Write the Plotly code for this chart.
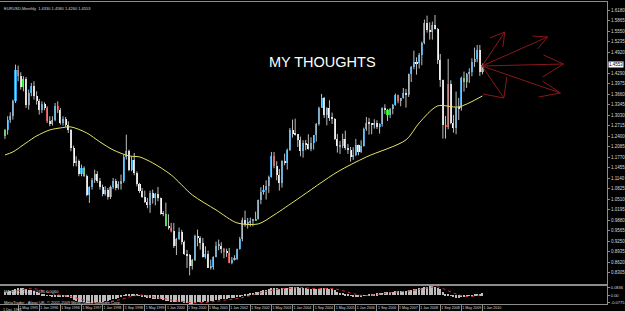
import plotly.graph_objects as go

# ---------------- data (monthly EURUSD, Dec 1994 .. Jan 2010) ----------------
opens = [1.240,
 1.258,1.290,1.300,1.345,1.440,1.420,1.388,1.412,1.335,1.370,1.392,1.362,
 1.345,1.318,1.336,1.325,1.285,1.278,1.290,1.330,1.320,1.280,1.292,1.275,
 1.258,1.205,1.160,1.165,1.128,1.145,1.122,1.065,1.088,1.110,1.126,1.107,
 1.088,1.066,1.079,1.057,1.087,1.107,1.085,1.098,1.106,1.177,1.196,1.139,
 1.169,1.129,1.098,1.077,1.058,1.043,1.035,1.069,1.055,1.068,1.054,1.008,
 1.007,0.971,0.965,0.956,0.910,0.932,0.954,0.924,0.887,0.883,0.850,0.870,
 0.942,0.935,0.920,0.879,0.887,0.846,0.849,0.878,0.912,0.912,0.903,0.893,
 0.890,0.860,0.870,0.872,0.902,0.933,0.990,0.977,0.981,0.987,0.988,0.993,
 1.049,1.073,1.078,1.091,1.119,1.180,1.150,1.124,1.099,1.165,1.160,1.198,
 1.259,1.247,1.247,1.230,1.197,1.220,1.216,1.202,1.219,1.243,1.277,1.326,
 1.356,1.304,1.325,1.296,1.292,1.231,1.210,1.212,1.233,1.205,1.199,1.179,
 1.184,1.215,1.192,1.212,1.262,1.281,1.279,1.276,1.281,1.268,1.276,1.326,
 1.320,1.303,1.323,1.335,1.365,1.345,1.354,1.370,1.365,1.427,1.448,1.463,
 1.459,1.485,1.519,1.579,1.560,1.554,1.575,1.561,1.468,1.409,1.273,1.269,
 1.397,1.280,1.266,1.325,1.324,1.415,1.403,1.426,1.434,1.464,1.472,1.500,
 1.433]
highs = [1.262,
 1.300,1.312,1.350,1.455,1.452,1.432,1.420,1.418,1.380,1.400,1.405,1.375,
 1.352,1.345,1.342,1.330,1.300,1.300,1.340,1.345,1.325,1.300,1.298,1.285,
 1.262,1.212,1.180,1.170,1.155,1.150,1.125,1.090,1.115,1.140,1.135,1.115,
 1.095,1.090,1.085,1.092,1.115,1.112,1.105,1.125,1.185,1.245,1.200,1.180,
 1.190,1.135,1.100,1.085,1.077,1.055,1.077,1.080,1.070,1.088,1.056,1.016,
 1.041,1.006,0.980,0.980,0.935,0.966,0.959,0.927,0.899,0.887,0.872,0.945,
 0.960,0.940,0.935,0.910,0.897,0.870,0.880,0.924,0.930,0.922,0.905,0.903,
 0.905,0.878,0.883,0.903,0.938,0.996,1.017,0.995,0.996,0.992,1.014,1.050,
 1.087,1.094,1.108,1.122,1.193,1.193,1.165,1.142,1.168,1.188,1.203,1.265,
 1.290,1.293,1.247,1.239,1.228,1.229,1.246,1.237,1.244,1.280,1.329,1.367,
 1.358,1.327,1.348,1.311,1.295,1.247,1.226,1.248,1.257,1.217,1.208,1.207,
 1.232,1.215,1.228,1.266,1.298,1.295,1.280,1.291,1.288,1.279,1.327,1.336,
 1.322,1.325,1.337,1.368,1.365,1.355,1.385,1.382,1.428,1.451,1.497,1.477,
 1.490,1.524,1.590,1.6019,1.582,1.584,1.6038,1.565,1.487,1.410,1.301,1.472,
 1.408,1.304,1.374,1.355,1.419,1.434,1.430,1.444,1.474,1.506,1.514,1.514,
 1.458]
lows = [1.232,
 1.245,1.280,1.290,1.340,1.405,1.380,1.375,1.325,1.320,1.360,1.350,1.335,
 1.305,1.310,1.318,1.280,1.270,1.272,1.285,1.310,1.275,1.272,1.268,1.250,
 1.195,1.150,1.150,1.120,1.120,1.118,1.060,1.040,1.080,1.100,1.100,1.080,
 1.060,1.062,1.050,1.052,1.082,1.078,1.080,1.080,1.100,1.170,1.135,1.135,
 1.123,1.090,1.070,1.055,1.040,1.024,1.010,1.038,1.033,1.045,1.005,1.000,
 0.970,0.960,0.952,0.905,0.884,0.929,0.915,0.884,0.845,0.8228,0.840,0.866,
 0.910,0.900,0.876,0.873,0.845,0.840,0.840,0.877,0.898,0.889,0.874,0.878,
 0.859,0.856,0.867,0.869,0.900,0.925,0.969,0.963,0.969,0.970,0.987,0.990,
 1.036,1.065,1.050,1.070,1.116,1.144,1.108,1.077,1.086,1.153,1.140,1.196,
 1.236,1.242,1.208,1.180,1.176,1.198,1.200,1.195,1.200,1.224,1.272,1.326,
 1.295,1.273,1.286,1.277,1.229,1.191,1.187,1.204,1.199,1.187,1.164,1.169,
 1.180,1.183,1.190,1.209,1.256,1.245,1.246,1.263,1.262,1.248,1.269,1.307,
 1.286,1.295,1.306,1.332,1.339,1.330,1.353,1.326,1.358,1.403,1.441,1.425,
 1.443,1.453,1.516,1.551,1.530,1.530,1.560,1.457,1.388,1.233,1.233,1.261,
 1.276,1.251,1.246,1.289,1.317,1.374,1.385,1.400,1.420,1.448,1.462,1.421,
 1.426]
closes = [1.258,
 1.290,1.300,1.345,1.440,1.420,1.388,1.412,1.335,1.370,1.392,1.362,1.345,
 1.318,1.336,1.325,1.285,1.278,1.290,1.330,1.320,1.280,1.292,1.275,1.258,
 1.205,1.160,1.165,1.128,1.145,1.122,1.065,1.088,1.110,1.126,1.107,1.088,
 1.066,1.079,1.057,1.087,1.107,1.085,1.098,1.106,1.177,1.196,1.139,1.169,
 1.129,1.098,1.077,1.058,1.043,1.035,1.069,1.055,1.068,1.054,1.008,1.007,
 0.971,0.965,0.956,0.910,0.932,0.954,0.924,0.887,0.883,0.850,0.870,0.942,
 0.935,0.920,0.879,0.887,0.846,0.849,0.878,0.912,0.912,0.903,0.893,0.890,
 0.860,0.870,0.872,0.902,0.933,0.990,0.977,0.981,0.987,0.988,0.993,1.049,
 1.073,1.078,1.091,1.119,1.180,1.150,1.124,1.099,1.165,1.160,1.198,1.259,
 1.247,1.246,1.230,1.197,1.220,1.216,1.202,1.219,1.243,1.277,1.326,1.356,
 1.304,1.325,1.296,1.292,1.231,1.210,1.212,1.233,1.205,1.199,1.179,1.184,
 1.215,1.192,1.212,1.262,1.281,1.279,1.276,1.281,1.268,1.276,1.326,1.320,
 1.303,1.323,1.335,1.365,1.345,1.354,1.370,1.365,1.427,1.448,1.463,1.459,
 1.485,1.519,1.579,1.560,1.554,1.575,1.561,1.468,1.409,1.273,1.269,1.397,
 1.280,1.266,1.325,1.324,1.415,1.403,1.426,1.434,1.464,1.472,1.500,1.432,
 1.4553]

green_bars = [0, 7, 30, 61, 71, 95, 145, 174, 181]
red_bars = [5, 16, 20, 63, 83, 85, 102, 149, 167, 168]

# slow moving average (yellow)
ma_bars = [0, 3, 8, 12, 17, 21, 25, 31, 36, 41, 47, 51, 56, 63, 71, 80, 88, 96,
           102, 111, 126, 137, 152, 157, 164, 172, 181]
ma_vals = [1.184, 1.193, 1.220, 1.241, 1.259, 1.265, 1.268, 1.250, 1.223, 1.199,
           1.181, 1.178, 1.160, 1.124, 1.064, 1.019, 0.980, 0.977, 1.004, 1.052,
           1.133, 1.178, 1.229, 1.280, 1.331, 1.328, 1.361]

# MACD(12,26,9) histogram, one value per bar
macd = [0.030,
 0.035,0.040,0.048,0.062,0.068,0.068,0.068,0.058,0.052,0.048,0.040,0.032,
 0.022,0.016,0.010,0.001,-0.006,-0.009,-0.007,-0.007,-0.010,-0.011,-0.013,-0.016,
 -0.027,-0.040,-0.048,-0.057,-0.060,-0.064,-0.072,-0.073,-0.070,-0.065,-0.062,-0.060,
 -0.058,-0.053,-0.050,-0.043,-0.035,-0.030,-0.024,-0.018,-0.005,0.007,0.010,0.015,
 0.013,0.006,-0.002,-0.010,-0.018,-0.025,-0.027,-0.030,-0.031,-0.033,-0.038,-0.042,
 -0.048,-0.053,-0.057,-0.064,-0.066,-0.065,-0.066,-0.070,-0.073,-0.077,-0.077,-0.070,
 -0.064,-0.060,-0.059,-0.056,-0.057,-0.056,-0.052,-0.045,-0.039,-0.035,-0.032,-0.030,
 -0.029,-0.027,-0.024,-0.018,-0.010,0.002,0.010,0.016,0.021,0.025,0.028,0.035,
 0.042,0.047,0.051,0.056,0.064,0.067,0.066,0.062,0.064,0.065,0.068,0.074,
 0.077,0.078,0.076,0.071,0.068,0.064,0.059,0.056,0.055,0.057,0.062,0.068,
 0.066,0.065,0.060,0.055,0.045,0.034,0.026,0.020,0.012,0.005,-0.003,-0.008,
 -0.009,-0.011,-0.010,-0.004,0.003,0.008,0.012,0.016,0.017,0.019,0.025,0.029,
 0.030,0.031,0.033,0.036,0.037,0.038,0.040,0.040,0.046,0.052,0.058,0.060,
 0.063,0.068,0.077,0.081,0.082,0.083,0.081,0.071,0.057,0.033,0.014,0.009,
 -0.005,-0.017,-0.021,-0.024,-0.018,-0.014,-0.009,-0.004,0.003,0.009,0.016,0.016,
 0.018]
signal_bars = [0, 4, 8, 12, 16, 20, 24, 28, 32, 36, 40, 44, 48, 52, 56, 60, 64, 68,
               72, 76, 80, 84, 88, 92, 96, 100, 104, 108, 112, 116, 120, 124, 128,
               132, 136, 140, 144, 148, 152, 156, 160, 164, 168, 172, 176, 180, 181]
signal_vals = [0.025, 0.040, 0.058, 0.058, 0.030, 0.005, -0.008, -0.032, -0.058,
               -0.067, -0.057, -0.038, -0.010, 0.003, -0.015, -0.030, -0.047, -0.060,
               -0.070, -0.065, -0.056, -0.042, -0.030, -0.008, 0.018, 0.040, 0.058,
               0.065, 0.072, 0.065, 0.060, 0.062, 0.043, 0.016, -0.003, 0.005, 0.018,
               0.030, 0.038, 0.049, 0.068, 0.078, 0.042, 0.005, -0.013, 0.003, 0.006]

first_date_label = "1 Dec 1994"
date_tick_bars = [5, 13, 21, 29, 37, 45, 53, 61, 69, 77, 85, 93, 101, 109, 117,
                  125, 133, 141, 149, 157, 165, 173, 181]
date_tick_labels = ["1 May 1995", "1 Jan 1996", "1 Sep 1996", "1 May 1997",
                    "1 Jan 1998", "1 Sep 1998", "1 May 1999", "1 Jan 2000", "1 Sep 2000",
                    "1 May 2001", "1 Jan 2002", "1 Sep 2002", "1 May 2003", "1 Jan 2004",
                    "1 Sep 2004", "1 May 2005", "1 Jan 2006", "1 Sep 2006", "1 May 2007",
                    "1 Jan 2008", "1 Sep 2008", "1 May 2009", "1 Jan 2010"]
# right-axis price labels (the slot at the current price shows the bid box instead)
price_ticks = [0.8305, 0.8620, 0.8935, 0.9250, 0.9565, 0.9880, 1.0195, 1.0510,
               1.0825, 1.1140, 1.1455, 1.1770, 1.2085, 1.2400, 1.2715, 1.3030, 1.3345,
               1.3660, 1.3975, 1.4290, 1.4920, 1.5235, 1.5550, 1.5865, 1.6180]
macd_ticks = [0.0700, 0.0, -0.0700]
macd_tick_text = ["0.0836", "0.00", "-0.0775"]

# ---------------- styling ----------------
W, H = 625, 311
ML, MR, MT, MB = 0, 13, 2, 6
PW, PH = W - ML - MR, H - MT - MB
X_RANGE = [-1.88, 228.2]
Y_RANGE = [0.7968, 1.6428]
M_RANGE = [-0.080, 0.086]
main_dom = [(PH - 282) / PH, 1.0]
macd_dom = [1.0 / PH, 19.0 / PH]

UP, DOWN, GREEN, RED = "#2f9fe4", "#ffffff", "#22e01e", "#e02222"
WICK = "#bdbdbd"
AXIS = "#8c8c8c"
TXT = "#d8d8d8"
FONT = "Liberation Sans"

n = len(closes)
idx = list(range(n))
colors = []
for i in idx:
    if i in green_bars:
        colors.append(GREEN)
    elif i in red_bars:
        colors.append(RED)
    elif closes[i] >= opens[i]:
        colors.append(UP)
    else:
        colors.append(DOWN)
body_base = [min(o, c) for o, c in zip(opens, closes)]
body_h = [max(abs(c - o), 0.0025) for o, c in zip(opens, closes)]

wx, wy = [], []
for i in idx:
    wx += [i, i, None]
    wy += [lows[i], highs[i], None]

fig = go.Figure()
fig.add_trace(go.Scatter(x=wx, y=wy, mode="lines", line=dict(color=WICK, width=1),
                         hoverinfo="skip", showlegend=False))
fig.add_trace(go.Bar(x=idx, y=body_h, base=body_base, width=0.78,
                     marker=dict(color=colors, line=dict(width=0)), showlegend=False))
fig.add_trace(go.Scatter(x=ma_bars, y=ma_vals, mode="lines",
                         line=dict(color="#e8e46a", width=1, shape="spline", smoothing=0.8),
                         showlegend=False))
fig.add_trace(go.Bar(x=idx, y=macd, width=0.42, marker=dict(color="#bcbcbc", line=dict(width=0)),
                     xaxis="x2", yaxis="y2", showlegend=False))
fig.add_trace(go.Scatter(x=signal_bars, y=signal_vals, mode="lines",
                         line=dict(color="#d03030", width=1, dash="dot", shape="spline"),
                         xaxis="x2", yaxis="y2", showlegend=False))

def px_to_data(px, py):
    xi = X_RANGE[0] + (px - ML) / PW * (X_RANGE[1] - X_RANGE[0])
    top = MT
    bot = MT + PH * (1 - main_dom[0])
    yp = Y_RANGE[1] - (py - top) / (bot - top) * (Y_RANGE[1] - Y_RANGE[0])
    return xi, yp

# red hand-drawn arrows (pixel positions of the sketch)
origin = (486, 66)
arrows = [
    ((509, 32), [(494, 38), (507, 47)]),
    ((552, 37), [(537, 36), (542, 49)]),
    ((568, 64), [(548, 55), (547, 77)]),
    ((565, 93), [(543, 97), (547, 81)]),
    ((508, 98), [(487, 94), (511, 77)]),
]
shapes = []
ARROW_C = "#8a1818"
def seg(p1, p2):
    x0, y0 = px_to_data(*p1)
    x1, y1 = px_to_data(*p2)
    shapes.append(dict(type="line", xref="x", yref="y", x0=x0, y0=y0, x1=x1, y1=y1,
                       line=dict(color=ARROW_C, width=1)))
for tip, wings in arrows:
    seg(origin, tip)
    for w in wings:
        seg(w, tip)

annotations = [
    dict(text="EURUSD,Monthly  %.4f %.4f %.4f %.4f" % (opens[-1], highs[-1], lows[-1], closes[-1]),
         xref="paper", yref="paper", x=0.003, y=1 - 2.0 / PH, xanchor="left", yanchor="top",
         showarrow=False, font=dict(family=FONT, size=4, color=TXT)),
    dict(text="MY THOUGHTS", xref="paper", yref="paper", x=325 / PW, y=(PH + MT - 62) / PH,
         xanchor="center", yanchor="middle", showarrow=False,
         font=dict(family=FONT, size=14.5, color="#ffffff")),
    dict(text="MACD(12,26,9) %.4f %.4f" % (macd[-1], signal_vals[-1]),
         xref="paper", yref="paper", x=0.003, y=(PH + MT - 287) / PH, xanchor="left", yanchor="top",
         showarrow=False, font=dict(family=FONT, size=4, color=TXT)),
    dict(text="MetaTrader - Alpari UK, © 2001-2009 MetaQuotes Software Corp.",
         xref="paper", yref="paper", x=0.003, y=(PH + MT - 302) / PH, xanchor="left", yanchor="middle",
         showarrow=False, font=dict(family=FONT, size=4, color=TXT)),
    dict(text=first_date_label, xref="paper", yref="paper", x=0.0, y=-0.004,
         xanchor="left", yanchor="top", showarrow=False, xshift=1,
         font=dict(family=FONT, size=3.6, color=TXT)),
    dict(text="%.4f" % closes[-1], xref="paper", yref="y", x=1.0, y=closes[-1],
         xanchor="left", yanchor="middle", showarrow=False, bgcolor="#ffffff",
         borderpad=0, xshift=1, font=dict(family=FONT, size=4.5, color="#000000")),
]

fig.update_layout(
    width=W, height=H, margin=dict(l=ML, r=MR, t=MT, b=MB),
    paper_bgcolor="#000000", plot_bgcolor="#000000",
    barmode="overlay", bargap=0, showlegend=False,
    shapes=shapes, annotations=annotations,
    xaxis=dict(domain=[0, 1], range=X_RANGE, anchor="y", showticklabels=False, ticks="",
               showgrid=False, zeroline=False, showline=True, mirror=True,
               linecolor=AXIS, linewidth=1),
    yaxis=dict(domain=main_dom, range=Y_RANGE, side="right", anchor="x",
               tickvals=price_ticks, ticktext=["%.4f" % v for v in price_ticks],
               ticks="outside", ticklen=2, tickcolor=AXIS,
               tickfont=dict(family=FONT, size=4.5, color=TXT),
               showgrid=False, zeroline=False, showline=True, linecolor=AXIS, linewidth=1),
    xaxis2=dict(domain=[0, 1], range=X_RANGE, anchor="y2",
                tickvals=date_tick_bars, ticktext=date_tick_labels, tickangle=0,
                ticks="outside", ticklen=6, tickcolor=AXIS,
                ticklabelposition="outside right",
                tickfont=dict(family=FONT, size=3.6, color=TXT),
                showgrid=False, zeroline=False, showline=True, mirror=True,
                linecolor=AXIS, linewidth=1),
    yaxis2=dict(domain=macd_dom, range=M_RANGE, side="right", anchor="x2",
                tickvals=macd_ticks, ticktext=macd_tick_text,
                ticks="outside", ticklen=2, tickcolor=AXIS,
                tickfont=dict(family=FONT, size=4, color=TXT),
                showgrid=False, zeroline=False, showline=True, linecolor=AXIS, linewidth=1),
)

fig.write_html("out.html")
